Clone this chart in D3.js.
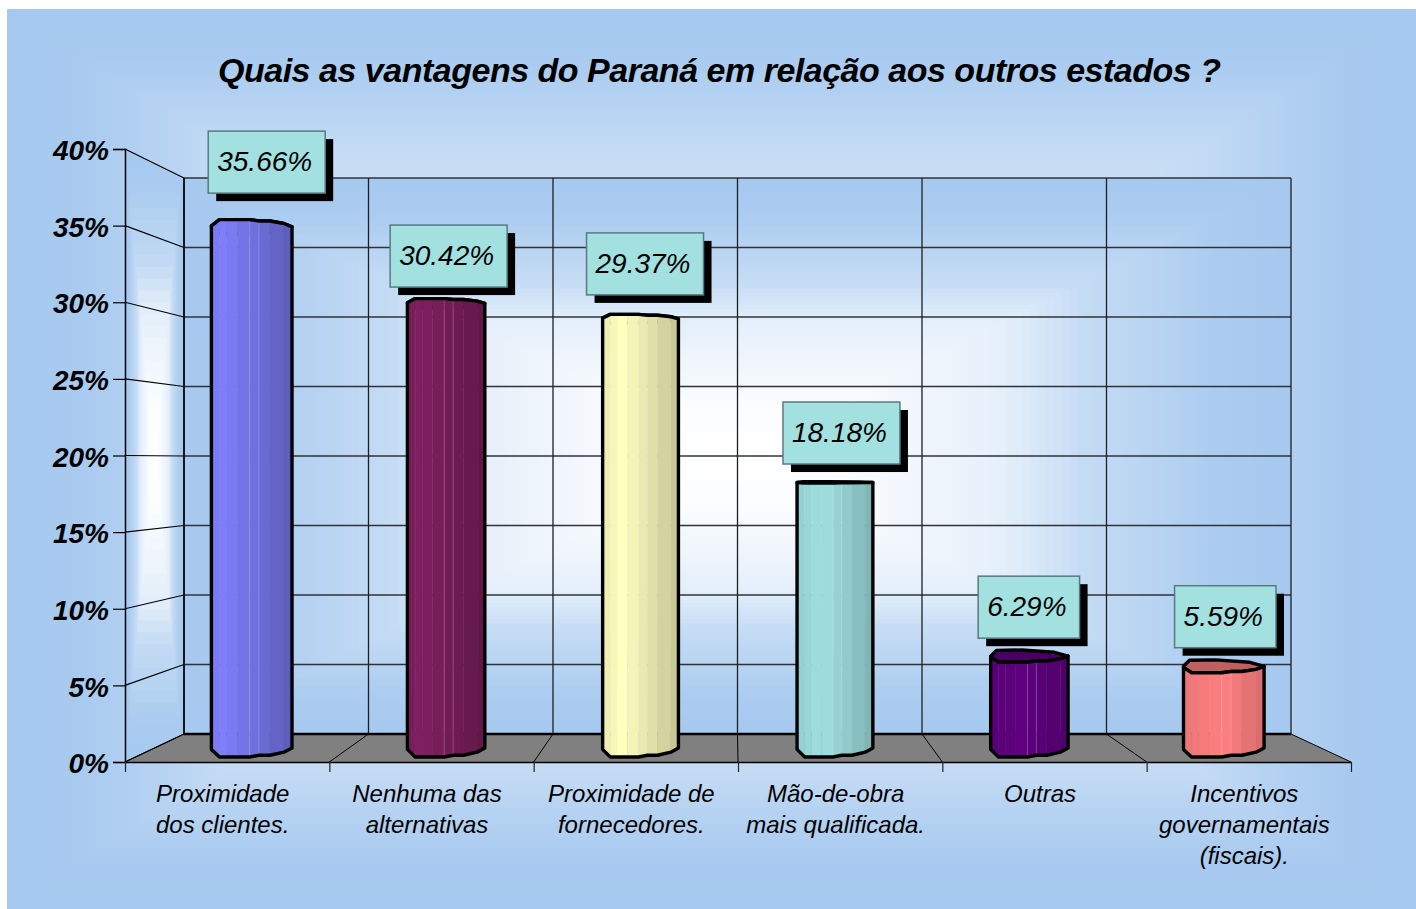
<!DOCTYPE html>
<html lang="pt">
<head>
<meta charset="utf-8">
<script src="https://cdn.jsdelivr.net/npm/d3@7"></script>
<style>
html,body{margin:0;padding:0;background:#fff;overflow:hidden}
svg{display:block}
text{font-family:"Liberation Sans",Arial,sans-serif;font-style:italic;fill:#000}
</style>
</head>
<body>
<svg id="c" width="1416" height="909"></svg>
<script>
// ---- data ----
const titleText = "Quais as vantagens do Paraná em relação aos outros estados ?";
const categories = ["Proximidade dos clientes.", "Nenhuma das alternativas", "Proximidade de fornecedores.", "Mão-de-obra mais qualificada.", "Outras", "Incentivos governamentais (fiscais)."];
const categoryLines = [["Proximidade","dos clientes."],["Nenhuma das","alternativas"],["Proximidade de","fornecedores."],["Mão-de-obra","mais qualificada."],["Outras"],["Incentivos","governamentais","(fiscais)."]];
const values = [35.66, 30.42, 29.37, 18.18, 6.29, 5.59];
const valueTicks = [0, 5, 10, 15, 20, 25, 30, 35, 40];
const barColors = ["#8080ff", "#802060", "#ffffc0", "#a0e0e0", "#600080", "#ff8080"];

// ---- layout ----
const W = 1416, H = 909;
const FRONT = {x0:125, x1:1351, y0:762, y40:149};
const BACK  = {x0:184, x1:1291, y0:734, y40:178};
const labelDx  = [15, 2.5, 4.5, 6.5, -0.5, 1.5];
const labelGap = [26.5, 11.5, 19.5, 19, 24, 25];
const BOX_H = 62;

const svg = d3.select("#c");
const yFront = d3.scaleLinear().domain([0,40]).range([FRONT.y0, FRONT.y40]);
const yBack  = d3.scaleLinear().domain([0,40]).range([BACK.y0, BACK.y40]);
const slots = d3.range(categories.length + 1);
const xFront = d3.scalePoint().domain(slots).range([FRONT.x0, FRONT.x1]);
const xBack  = d3.scalePoint().domain(slots).range([BACK.x0, BACK.x1]);
const xMid = d3.scaleBand().domain(categories).range([(FRONT.x0+BACK.x0)/2, (FRONT.x1+BACK.x1)/2]);
// depth projection: f = 0 back plane, f = 1 front plane
const project = (v,f) => yBack(v) + f*(yFront(v)-yBack(v));

// banded rectangular path gradients
const tint = (curve, edge) => t => d3.interpolateRgb(edge, "#ffffff")(curve(t));
function bands(sel, box, n, color){
  sel.selectAll(null).data(d3.range(n)).join("rect")
    .attr("x", i => box.x + (box.w/2)*i/n)
    .attr("y", i => box.y + (box.h/2)*i/n)
    .attr("width", i => box.w*(1-i/n))
    .attr("height", i => box.h*(1-i/n))
    .attr("fill", i => color(i/n));
}
const EDGE = "#a6c9ef";
const outerCurve = d3.scaleLinear().domain([0,.1,.2,.3,1]).range([0,.03,.16,.33,1]).clamp(true);
const wallCurve  = d3.scaleLinear().domain([0,.12,.37,.51,.8,1]).range([0,.05,.35,.7,.95,1]).clamp(true);

bands(svg.append("g"), {x:7,y:9,w:W-7,h:H-9}, 110, tint(outerCurve, EDGE));

// side wall
const sidePts = [[FRONT.x0,yFront(40)],[BACK.x0,yBack(40)],[BACK.x0,yBack(0)],[FRONT.x0,yFront(0)]];
svg.append("clipPath").attr("id","sideClip").append("polygon").attr("points",sidePts.join(" "));
bands(svg.append("g").attr("clip-path","url(#sideClip)"),
  {x:FRONT.x0,y:yFront(40),w:BACK.x0-FRONT.x0,h:yFront(0)-yFront(40)}, 26, tint(wallCurve, EDGE));

// back wall
bands(svg.append("g"), {x:BACK.x0,y:yBack(40),w:BACK.x1-BACK.x0,h:yBack(0)-yBack(40)}, 70, tint(wallCurve, EDGE));

// floor
svg.append("polygon")
  .attr("points",[[FRONT.x0,yFront(0)],[BACK.x0,yBack(0)],[BACK.x1,yBack(0)],[FRONT.x1,yFront(0)]].join(" "))
  .attr("fill","#808080");

// grid
const grid = svg.append("g").attr("fill","none");
grid.selectAll(".h").data(valueTicks).join("line")
  .attr("x1",BACK.x0).attr("x2",BACK.x1).attr("y1",d=>yBack(d)).attr("y2",d=>yBack(d))
  .attr("stroke",d=>d===0?"#000":"#2f3338").attr("stroke-width",d=>d===0?2.5:1.5);
grid.selectAll(".v").data(slots).join("line")
  .attr("x1",d=>xBack(d)).attr("x2",d=>xBack(d)).attr("y1",yBack(40)).attr("y2",yBack(0))
  .attr("stroke","#1c2024").attr("stroke-width",1.3);
grid.selectAll(".s").data(valueTicks).join("line")
  .attr("x1",FRONT.x0).attr("x2",BACK.x0).attr("y1",d=>yFront(d)).attr("y2",d=>yBack(d))
  .attr("stroke","#000").attr("stroke-width",1.2);
grid.selectAll(".f").data(slots).join("line")
  .attr("x1",d=>xFront(d)).attr("x2",d=>xBack(d)).attr("y1",FRONT.y0).attr("y2",BACK.y0)
  .attr("stroke","#000").attr("stroke-width",1);
grid.append("line").attr("x1",BACK.x0).attr("x2",BACK.x0).attr("y1",yBack(40)).attr("y2",yBack(0)).attr("stroke","#000").attr("stroke-width",1.5);

// axes
const yAxis = d3.axisLeft(yFront).tickValues(valueTicks).tickSize(12).tickPadding(4).tickFormat(d=>d+"%");
const gy = svg.append("g").attr("transform",`translate(${FRONT.x0},0)`).call(yAxis);
gy.select(".domain").attr("stroke","#000").attr("stroke-width",1.5);
gy.selectAll(".tick line").attr("stroke","#000").attr("stroke-width",1.2);
gy.selectAll(".tick text").attr("font-size",28).attr("font-weight","bold").attr("dy","0.38em")
  .style("font-family",'"Liberation Sans",Arial,sans-serif');
gy.attr("font-family",null).attr("font-size",null);

const xAxis = d3.axisBottom(xFront).tickSize(10).tickSizeOuter(0).tickFormat("");
const gx = svg.append("g").attr("transform",`translate(0,${FRONT.y0})`).call(xAxis);
gx.select(".domain").attr("stroke","#000").attr("stroke-width",1.5);
gx.selectAll(".tick line").attr("stroke","#222").attr("stroke-width",1.2);

// category labels
const labelBand = (xFront(1)-xFront(0));
const cats = svg.append("g").selectAll("text").data(categoryLines).join("text")
  .attr("text-anchor","middle").attr("font-size",24);
cats.each(function(lines,i){
  const cx = xFront(i) + labelBand/2 - 4.5;
  d3.select(this).selectAll("tspan").data(lines).join("tspan")
    .attr("x",cx).attr("y",(d,j)=>802+j*31).text(d=>d);
});

// bars: faceted cylinders, drawn through the depth projection
const nodes = [[-1,.55],[-.8,.82],[-.62,.82],[-.35,.82],[-.05,.82],[.18,.76],[.45,.76],[.8,.65],[1,.5]];
const backNodes = [[1,.5],[.65,.3],[-.2,.18],[-.85,.2],[-1,.5]];
const line = d3.line();
const bars = svg.append("g").selectAll("g").data(values).join("g");
bars.each(function(v,i){
  const g = d3.select(this), name = categories[i];
  const cx = xMid(name) + xMid.bandwidth()/2;
  const dist = Math.abs(cx-738)/486;
  const R = (78 + 5*dist*dist)/2 - 1.2;
  const X = u => cx + u*R;
  const base = barColors[i];
  const dark = k => { const c=d3.rgb(base); return d3.rgb(c.r*k,c.g*k,c.b*k).formatHex(); };
  // the brightest facet drifts from the left of the bar towards its centre across the chart
  const frac = i/(values.length-1);
  const u0 = -.8 + .8*frac, amp = .28 - .12*frac;
  const shadeAt = u => u>=u0 ? 1-amp*(u-u0)/(1-u0) : 1-.08*(u0-u)/(1+u0+1e-6);
  // cap
  const capPts = nodes.map(n=>[X(n[0]),project(v,n[1])]).concat(backNodes.map(n=>[X(n[0]),project(v,n[1])]));
  g.append("path").attr("d",line(capPts)+"Z").attr("fill",dark(.75)).attr("stroke","#000").attr("stroke-width",3.4).attr("stroke-linejoin","round");
  // strips
  d3.range(nodes.length-1).forEach(k=>{
    const a=nodes[k], b=nodes[k+1], s=dark(shadeAt((a[0]+b[0])/2));
    g.append("path").attr("d",line([[X(a[0]),project(v,a[1])],[X(b[0]),project(v,b[1])],[X(b[0]),project(0,b[1])],[X(a[0]),project(0,a[1])]])+"Z")
      .attr("fill",s).attr("stroke",s).attr("stroke-width",.4);
  });
  // faint facet lines
  [-.05,.18].forEach(u=>{
    const n=nodes.find(d=>d[0]===u);
    g.append("line").attr("x1",X(u)).attr("x2",X(u)).attr("y1",project(v,n[1])).attr("y2",project(0,n[1]))
      .attr("stroke","#fff").attr("stroke-opacity",.22).attr("stroke-width",1);
  });
  // silhouette
  const out = nodes.map(n=>[X(n[0]),project(v,n[1])]).concat(nodes.slice().reverse().map(n=>[X(n[0]),project(0,n[1])]));
  g.append("path").attr("d",line(out)+"Z").attr("fill","none").attr("stroke","#000").attr("stroke-width",3.4).attr("stroke-linejoin","round");

  // value label
  const bottom = project(v,.82) - labelGap[i];
  const lab = g.append("g");
  const t = lab.append("text").attr("font-size",28).attr("text-anchor","middle")
    .attr("x",cx+labelDx[i]-2).attr("y",bottom-BOX_H+40).text(v.toFixed(2)+"%");
  const bw = t.node().getComputedTextLength() + 22;
  const bx = cx+labelDx[i]-bw/2, by = bottom-BOX_H;
  lab.insert("rect","text").attr("x",bx+8).attr("y",by+8).attr("width",bw).attr("height",BOX_H).attr("fill","#000");
  lab.insert("rect","text").attr("x",bx).attr("y",by).attr("width",bw).attr("height",BOX_H)
    .attr("fill","#a3e0e0").attr("stroke","#5a7a80").attr("stroke-width",1.5);
});

// title
svg.append("text").attr("x",218).attr("y",82).attr("font-size",34).attr("font-weight","bold")
  .attr("textLength",1003).attr("lengthAdjust","spacing").text(titleText);
</script>
</body>
</html>
